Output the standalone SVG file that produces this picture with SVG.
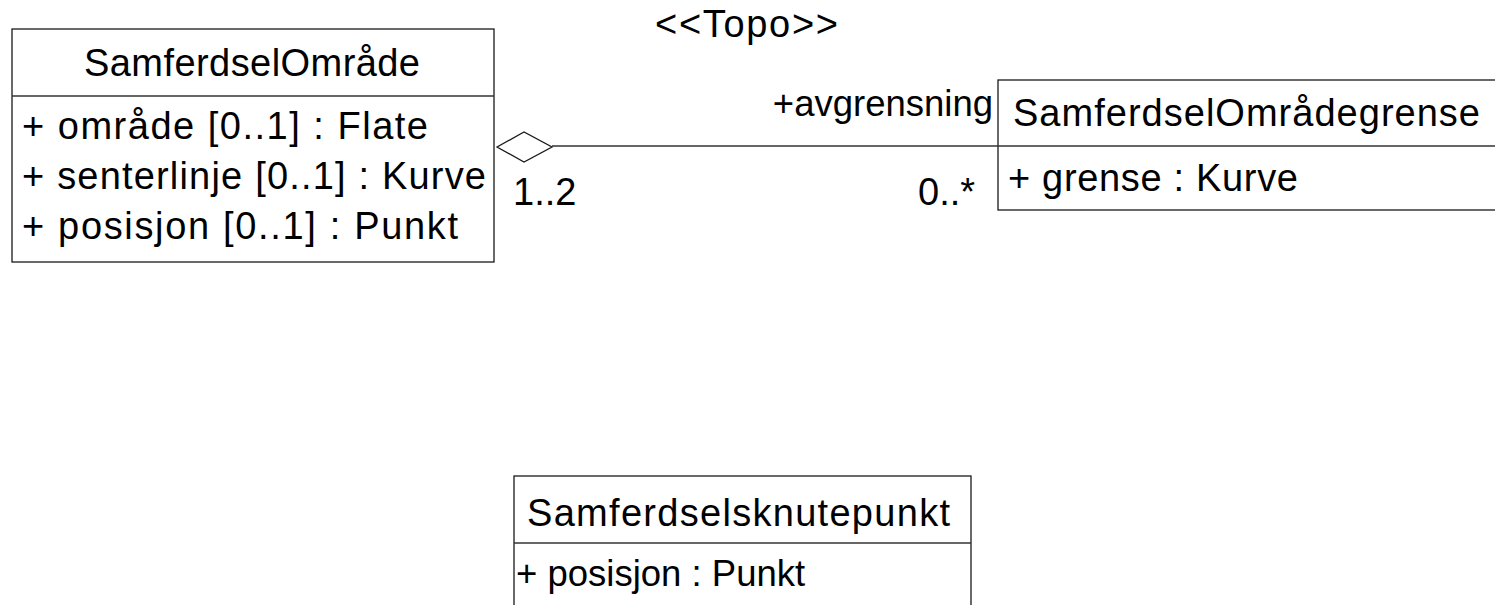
<svg xmlns="http://www.w3.org/2000/svg" width="1495" height="605" viewBox="0 0 1495 605">
<style>
.box{fill:#fff;stroke:#1a1a1a;stroke-width:1.3}
.div{stroke:#333;stroke-width:1.3}
.t{font-family:"Liberation Sans",Arial,sans-serif;font-size:38px;fill:#000}
.s{font-size:36.5px}
.edge{fill:none;stroke:#333;stroke-width:1.3}
</style>
<rect width="1495" height="605" fill="#fff"/>
<g id="SamferdselOmrade">
<rect class="box" x="12" y="29" width="482" height="233"/>
<line class="div" x1="12" y1="96" x2="494" y2="96"/>
<text class="t" x="84" y="76" textLength="336" lengthAdjust="spacing">SamferdselOmråde</text>
<text class="t" x="22" y="139" textLength="406" lengthAdjust="spacing">+ område [0..1] : Flate</text>
<text class="t" x="22" y="189" textLength="464" lengthAdjust="spacing">+ senterlinje [0..1] : Kurve</text>
<text class="t" x="22" y="239" textLength="436" lengthAdjust="spacing">+ posisjon [0..1] : Punkt</text>
</g>
<g id="SamferdselOmradegrense">
<rect class="box" x="998" y="80" width="600" height="130"/>
<line class="div" x1="998" y1="146" x2="1495" y2="146"/>
<text class="t" x="1013" y="126" textLength="467" lengthAdjust="spacing">SamferdselOmrådegrense</text>
<text class="t" x="1008" y="191" textLength="290" lengthAdjust="spacing">+ grense : Kurve</text>
</g>
<g id="Samferdselsknutepunkt">
<rect class="box" x="514" y="476" width="457" height="200"/>
<line class="div" x1="514" y1="543" x2="971" y2="543"/>
<text class="t" x="527" y="526" textLength="423" lengthAdjust="spacing">Samferdselsknutepunkt</text>
<text class="t s" x="516" y="586">+ posisjon : Punkt</text>
</g>
<g id="connectors">
<line class="edge" x1="552" y1="146" x2="998" y2="146"/>
<polygon points="497,147 524,132 552,147 524,162" fill="#fff" stroke="#1a1a1a" stroke-width="1.3"/>
<text class="t" x="655" y="37" textLength="183" lengthAdjust="spacing">&lt;&lt;Topo&gt;&gt;</text>
<text class="t s" x="993" y="116" text-anchor="end">+avgrensning</text>
<text class="t" x="513" y="205">1..2</text>
<text class="t" x="918" y="205">0..*</text>
</g>
</svg>
